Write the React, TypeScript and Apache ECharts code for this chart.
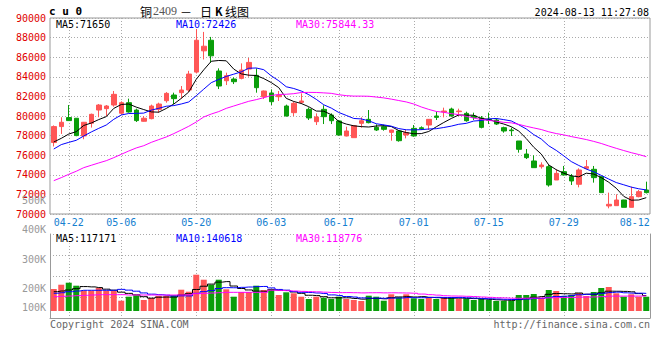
import React, { useEffect, useRef } from 'react';
import * as echarts from 'echarts';

const dates = [
  '04-18', '04-19', '04-22', '04-23', '04-24', '04-25', '04-26', '04-29', '04-30',
  '05-06', '05-07', '05-08', '05-09', '05-10', '05-13', '05-14', '05-15', '05-16', '05-17',
  '05-20', '05-21', '05-22', '05-23', '05-24', '05-27', '05-28', '05-29', '05-30', '05-31',
  '06-03', '06-04', '06-05', '06-06', '06-07', '06-11', '06-12', '06-13', '06-14',
  '06-17', '06-18', '06-19', '06-20', '06-21', '06-24', '06-25', '06-26', '06-27', '06-28',
  '07-01', '07-02', '07-03', '07-04', '07-05', '07-08', '07-09', '07-10', '07-11', '07-12',
  '07-15', '07-16', '07-17', '07-18', '07-19', '07-22', '07-23', '07-24', '07-25', '07-26',
  '07-29', '07-30', '07-31', '08-01', '08-02', '08-05', '08-06', '08-07', '08-08', '08-09',
  '08-12', '08-13',
];

const opens = [
  77290, 78920, 79840, 79770, 77970, 79260, 80610, 80750, 81120, 80280,
  81360, 80610, 79460, 79730, 80680, 81560, 82140, 82380, 82650, 84480,
  86650, 87730, 84590, 83600, 83770, 83840, 84790, 84150, 81970, 82350,
  81970, 81020, 80340, 81390, 80680, 79420, 80680, 80100, 79490, 77960,
  77790, 79250, 79660, 78840, 78910, 78330, 78470, 78060, 78740, 78800,
  79080, 80000, 80410, 80710, 80440, 80270, 80000, 79800, 79660, 79590,
  78810, 78570, 77450, 76120, 75410, 74830, 74830, 73470, 74320, 73810,
  73030, 74660, 74560, 73810, 70820, 70850, 71430, 70680, 71770, 72450,
];
const closes = [
  78920, 79360, 79530, 78000, 79360, 80170, 81120, 81020, 82210, 81360,
  80410, 79530, 79770, 81020, 81220, 82310, 81770, 82650, 84280, 87730,
  87120, 86140, 83060, 84110, 83500, 84690, 85470, 82890, 82550, 81460,
  82110, 80000, 81290, 81530, 79800, 79900, 79930, 79520, 78060, 78470,
  79010, 79520, 79320, 78570, 78640, 78570, 77480, 78300, 77960, 78700,
  79660, 79860, 80510, 80000, 80510, 79520, 79860, 78840, 79560, 79180,
  78470, 78500, 76600, 75750, 74730, 75000, 72960, 74150, 73980, 73370,
  74490, 74830, 73710, 72180, 70990, 71430, 70680, 71770, 72280, 72180,
];
const lows = [
  76890, 78170, 79490, 77940, 77630, 78820, 79870, 80000, 80950, 80140,
  80340, 79390, 79430, 79660, 80340, 81360, 81220, 81770, 82440, 84340,
  85770, 85430, 82750, 83160, 83260, 83740, 84010, 82380, 81730, 81120,
  81530, 79950, 80000, 81220, 79590, 79080, 79180, 79180, 78000, 77920,
  77790, 78810, 79250, 78470, 78500, 77480, 77380, 77720, 77890, 78570,
  78570, 79590, 79860, 79930, 80000, 79420, 79590, 78740, 79180, 79080,
  78300, 77960, 76260, 75610, 74730, 74630, 72790, 73470, 73950, 72960,
  72720, 74560, 73200, 72180, 70580, 70850, 70680, 70680, 71700, 72100,
];
const highs = [
  79040, 79870, 81120, 79790, 79390, 80240, 81220, 81120, 82550, 81500,
  81770, 80750, 80000, 81160, 81360, 82440, 82380, 83060, 84610, 88900,
  88580, 88070, 84860, 84420, 83940, 85370, 85920, 84860, 82600, 82720,
  82550, 81160, 81460, 82310, 80880, 80270, 81090, 80270, 79590, 78910,
  79080, 79860, 80610, 79150, 79120, 78600, 78570, 78570, 79080, 78940,
  79660, 80440, 80850, 80850, 80750, 80440, 80340, 80000, 80340, 79760,
  78910, 78810, 77450, 76630, 75990, 75270, 75000, 74560, 74900, 74080,
  74660, 75510, 74900, 73810, 72180, 72010, 71450, 72790, 72450, 73300,
];
const volumes = [
  171600, 205100, 220700, 197300, 158300, 158300, 179400, 158300, 158300, 80300,
  111500, 122500, 85800, 101400, 117000, 117000, 122500, 166100, 150500, 283100,
  244100, 205100, 244100, 169300, 111500, 148200, 148200, 197300, 163800, 169300,
  124800, 145900, 138100, 111500, 93600, 111500, 103700, 93600, 111500, 93600,
  85800, 78000, 119300, 111500, 80300, 130300, 106900, 130300, 99100, 93600,
  103700, 93600, 106900, 103700, 93600, 93600, 85800, 93600, 85800, 78000,
  78000, 78000, 124800, 124800, 132600, 103700, 163800, 156000, 117000, 124800,
  140400, 117000, 148200, 179400, 187200, 138100, 111500, 130300, 111500, 111500,
];

const ma5Head = [77350, 77720, 78160, 78400];
const ma10Head = [76630, 77080, 77310, 77520, 77960, 78370, 78740, 79080, 79660];
const ma30Head = [
  73400, 73710, 74050, 74360, 74730, 74970, 75210, 75440, 75750, 76090,
  76430, 76740, 76970, 77310, 77590, 77860, 78200, 78570, 78950, 79390,
  79900, 80200, 80450, 80780, 81020, 81260, 81500, 81670, 81870,
];
const vma5Head = [150500, 156000, 163800, 174000];
const vma10Head = [138100, 142700, 150500, 156000, 161500, 161500, 161500, 161500, 161500];
const vma30Head = [
  111800, 114400, 117000, 119600, 122200, 124800, 127400, 127400, 127400, 127400,
  124800, 124800, 124800, 124800, 124800, 124800, 124800, 124800, 127400, 135200,
  137800, 140400, 143000, 145600, 145600, 145600, 145600, 145600, 145600,
];

const labeledDates = ['04-22', '05-06', '05-20', '06-03', '06-17', '07-01', '07-15', '07-29', '08-12'];
const gridDates = ['04-22', '05-06', '05-20', '06-03', '06-17', '07-01', '07-15', '07-29'];
const volTicks = [100000, 200000, 300000, 400000, 500000];

const priceLegend = ['MA5:71650', 'MA10:72426', 'MA30:75844.33'];
const volLegend = ['MA5:117171', 'MA10:140618', 'MA30:118776'];
const legendColors = ['#000000', '#0000ff', '#ff00ff'];

const UP = '#ff5656';
const DOWN = '#0a9e0a';
const MONO = '"DejaVu Sans Mono", "Liberation Mono", monospace';
const GRIDC = '#aaaaaa';
const FRAME = '#999999';

function withMA(head: number[], src: number[], n: number): number[] {
  const out = head.slice();
  for (let i = head.length; i < src.length; i++) {
    let s = 0;
    for (let k = i - n + 1; k <= i; k++) s += src[k];
    out.push(Math.round((s / n) * 100) / 100);
  }
  return out;
}

export default function App() {
  const ref = useRef<HTMLDivElement>(null);
  useEffect(() => {
    if (!ref.current) return;
    const chart = echarts.init(ref.current, null, { renderer: 'svg' });
    const labelIdx = new Set(labeledDates.map((d) => dates.indexOf(d)));
    const gridIdx = new Set(gridDates.map((d) => dates.indexOf(d)));
    const ma5 = withMA(ma5Head, closes, 5);
    const ma10 = withMA(ma10Head, closes, 10);
    const ma30 = withMA(ma30Head, closes, 30);
    const vma5 = withMA(vma5Head, volumes, 5);
    const vma10 = withMA(vma10Head, volumes, 10);
    const vma30 = withMA(vma30Head, volumes, 30);
    const dotted = { color: GRIDC, width: 1, type: [1, 2] as any };

    const legendText = (texts: string[], y: number) =>
      texts.map((t, i) => ({
        type: 'text',
        x: [55, 175, 295][i],
        y,
        z: 100,
        style: {
          text: t,
          font: `10px ${MONO}`,
          fill: legendColors[i],
          verticalAlign: 'middle',
          backgroundColor: '#ffffff',
          padding: [0, 1, 0, 1],
        },
      }));

    const option: any = {
      animation: false,
      backgroundColor: '#ffffff',
      grid: [
        { left: 50, top: 18, width: 600, height: 196, show: true, borderColor: FRAME, borderWidth: 1, backgroundColor: 'transparent' },
        { left: 50, top: 234, width: 600, height: 77 },
        { left: 50, top: 234, width: 600, height: 84 },
        { left: 50, top: 202, width: 600, height: 117.3 },
      ],
      xAxis: [
        {
          type: 'category', gridIndex: 0, data: dates, boundaryGap: true,
          axisLine: { show: false }, axisTick: { show: false },
          axisLabel: {
            interval: (i: number) => labelIdx.has(i),
            color: '#1580d0', fontFamily: MONO, fontSize: 10, margin: 3,
            formatter: (v: string) => (v === '08-12' ? '{r|' + v + '}' : v),
            rich: { r: { color: '#1580d0', fontFamily: MONO, fontSize: 10, padding: [0, 8, 0, 0] } },
          },
          splitLine: { show: true, alignWithLabel: true, interval: (i: number) => gridIdx.has(i), lineStyle: dotted },
        },
        { type: 'category', gridIndex: 1, data: dates, boundaryGap: true, show: false },
        {
          type: 'category', gridIndex: 2, data: dates, boundaryGap: true,
          axisLine: { show: true, lineStyle: { color: FRAME, width: 1 } }, axisTick: { show: false }, axisLabel: { show: false },
          splitLine: { show: true, alignWithLabel: true, interval: (i: number) => gridIdx.has(i), lineStyle: dotted },
        },
        { type: 'category', gridIndex: 3, data: dates, boundaryGap: true, show: false },
      ],
      yAxis: [
        {
          type: 'value', gridIndex: 0, min: 70000, max: 90000, interval: 2000,
          axisLine: { show: false }, axisTick: { show: false },
          axisLabel: {
            color: '#e00000', fontFamily: MONO, fontSize: 10, margin: 4, padding: [0, 0, 3, 0],
            formatter: (v: number) => String(v),
          },
          splitLine: { show: true, lineStyle: dotted },
        },
        { type: 'value', gridIndex: 1, min: 0, max: 600600, show: false },
        {
          type: 'value', gridIndex: 2, min: 0, max: 4, interval: 1,
          axisLine: { show: true, lineStyle: { color: FRAME, width: 1 } }, axisTick: { show: false }, axisLabel: { show: false },
          splitLine: { show: true, lineStyle: dotted },
        },
        {
          type: 'value', gridIndex: 2, min: 0, max: 4, interval: 1, position: 'right',
          axisLine: { show: true, lineStyle: { color: FRAME, width: 1 } }, axisTick: { show: false }, axisLabel: { show: false },
          splitLine: { show: false },
        },
        {
          type: 'value', gridIndex: 3, min: volTicks[0], max: volTicks[volTicks.length - 1], interval: 100000,
          axisLine: { show: false }, axisTick: { show: false }, splitLine: { show: false },
          axisLabel: {
            color: '#999999', fontFamily: MONO, fontSize: 10, margin: 4, padding: [0, 0, 3, 0],
            formatter: (v: number) => (v === volTicks[0] ? `{lo|${v / 1000}K}` : `${v / 1000}K`),
            rich: { lo: { color: '#999999', fontFamily: MONO, fontSize: 10, padding: [0, 0, 21, 0] } },
          },
        },
      ],
      series: [
        {
          type: 'candlestick', xAxisIndex: 0, yAxisIndex: 0, barWidth: 5,
          data: dates.map((_, i) => [opens[i], closes[i], lows[i], highs[i]]),
          itemStyle: { color: UP, color0: DOWN, borderColor: UP, borderColor0: DOWN, borderWidth: 1 },
        },
        { type: 'line', xAxisIndex: 0, yAxisIndex: 0, data: ma5, symbol: 'none', z: 5, lineStyle: { color: '#000000', width: 1 } },
        { type: 'line', xAxisIndex: 0, yAxisIndex: 0, data: ma10, symbol: 'none', z: 5, lineStyle: { color: '#0000ff', width: 1 } },
        { type: 'line', xAxisIndex: 0, yAxisIndex: 0, data: ma30, symbol: 'none', z: 5, lineStyle: { color: '#ff00ff', width: 1 } },
        {
          type: 'bar', xAxisIndex: 1, yAxisIndex: 1, barWidth: 6,
          data: volumes.map((v, i) => ({ value: v, itemStyle: { color: closes[i] >= opens[i] ? UP : DOWN } })),
        },
        { type: 'line', xAxisIndex: 1, yAxisIndex: 1, data: vma5, step: 'middle', symbol: 'none', z: 5, lineStyle: { color: '#000000', width: 1 } },
        { type: 'line', xAxisIndex: 1, yAxisIndex: 1, data: vma10, step: 'middle', symbol: 'none', z: 5, lineStyle: { color: '#0000ff', width: 1 } },
        { type: 'line', xAxisIndex: 1, yAxisIndex: 1, data: vma30, step: 'middle', symbol: 'none', z: 5, lineStyle: { color: '#ff00ff', width: 1 } },
      ],
      graphic: [
        { type: 'text', x: 49, y: 11, style: { text: 'c u 0', font: `bold 11px ${MONO}`, fill: '#000', verticalAlign: 'middle' } },
        { type: 'text', x: 140, y: 11, style: { text: '铜', font: '12px "Noto Sans CJK SC"', fill: '#000', verticalAlign: 'middle' } },
        { type: 'text', x: 153, y: 11, style: { text: '2409', font: '12px "Liberation Serif", serif', fill: '#555', verticalAlign: 'middle' } },
        { type: 'text', x: 186, y: 11, style: { text: '－', font: '12px "Noto Sans CJK SC"', fill: '#000', verticalAlign: 'middle', align: 'center' } },
        { type: 'text', x: 200, y: 11, style: { text: '日', font: '12px "Noto Sans CJK SC"', fill: '#000', verticalAlign: 'middle' } },
        { type: 'text', x: 215, y: 11, style: { text: 'K', font: 'bold 11px "Noto Sans CJK SC"', fill: '#000', verticalAlign: 'middle' } },
        { type: 'text', x: 225, y: 11, style: { text: '线图', font: '12px "Noto Sans CJK SC"', fill: '#000', verticalAlign: 'middle' } },
        { type: 'text', x: 649, y: 12, style: { text: '2024-08-13 11:27:08', font: `10px ${MONO}`, fill: '#000', verticalAlign: 'middle', align: 'right' } },
        ...legendText(priceLegend, 24),
        ...legendText(volLegend, 238.5),
        { type: 'text', x: 50, y: 324, style: { text: 'Copyright 2024 SINA.COM', font: `10px ${MONO}`, fill: '#666', verticalAlign: 'middle' } },
        { type: 'text', x: 650, y: 324, style: { text: 'http://finance.sina.com.cn', font: `10px ${MONO}`, fill: '#666', verticalAlign: 'middle', align: 'right' } },
      ],
    };
    chart.setOption(option);
    return () => chart.dispose();
  }, []);
  return <div ref={ref} style={{ position: 'fixed', left: 0, top: 0, width: 660, height: 360 }} />;
}
